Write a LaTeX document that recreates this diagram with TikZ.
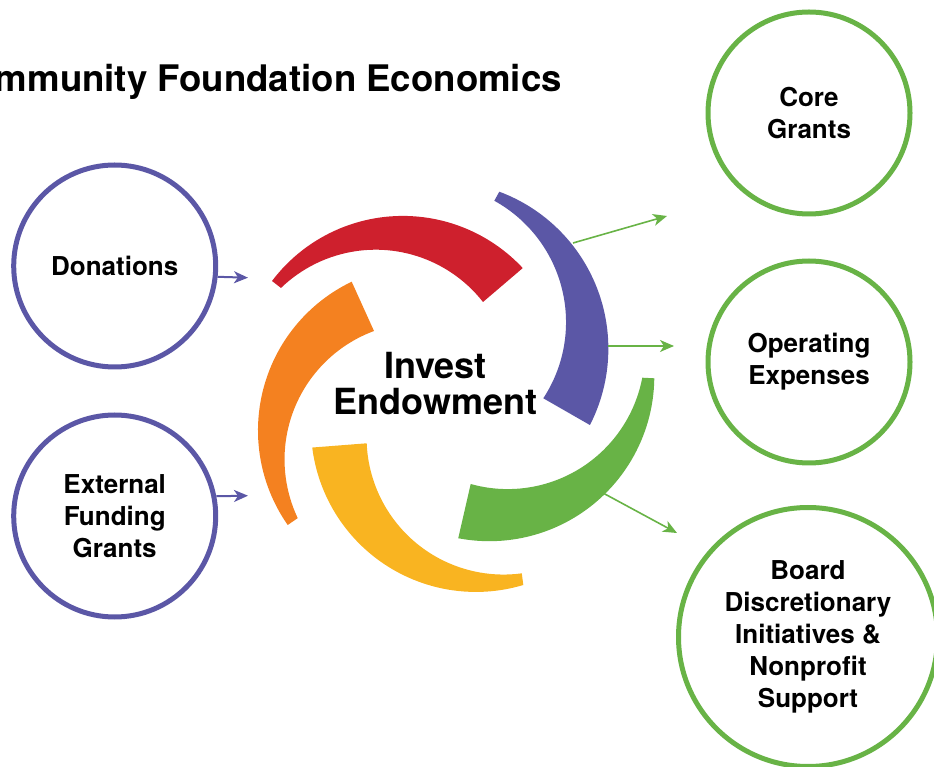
\documentclass[tikz,border=0pt]{standalone}
\usepackage{fontspec}
\setmainfont{TeX Gyre Heros}
\usetikzlibrary{arrows.meta}
\definecolor{cred}{HTML}{CE202D}
\definecolor{cpur}{HTML}{5B57A6}
\definecolor{cgrn}{HTML}{68B346}
\definecolor{cyel}{HTML}{F9B421}
\definecolor{cora}{HTML}{F48120}
\begin{document}
\begin{tikzpicture}[x=1pt,y=1pt,
  ring/.style={circle, draw, line width=5pt, inner sep=0pt, minimum size=202pt, align=center,
    font=\fontsize{26}{32}\selectfont\bfseries},
  inring/.style={ring, draw=cpur},
  outring/.style={ring, draw=cgrn},
  inarrow/.style={draw=cpur, line width=2pt, -{Stealth[length=14pt,width=12pt,inset=4pt]}},
  outarrow/.style={draw=cgrn, line width=1.6pt, -{Stealth[length=14pt,width=12pt,inset=4pt]}}]
\useasboundingbox (0,0) rectangle (934,766);

% title
\node[anchor=base east, inner sep=0pt, font=\fontsize{36.6}{40}\selectfont\bfseries] (title) at (562,674) {mmunity Foundation Economics};

% swirl arcs
\fill[cred] (272,485) arc[start angle=142.9,end angle=43,radius=164] -- (483,464) arc[start angle=38.05,end angle=134,radius=136.3] -- cycle;
\fill[cpur] (499.3,574.3) arc[start angle=69.58,end angle=-27.13,radius=167.5] -- (543.3,367.7) arc[start angle=-33.27,end angle=61.13,radius=138.7] -- cycle;
\fill[cgrn] (654.3,387.7) arc[start angle=-0.73,end angle=-100.86,radius=165] -- (470.7,282) arc[start angle=-105.67,end angle=-10.77,radius=137] -- cycle;
\fill[cyel] (523.3,181) arc[start angle=-73.32,end angle=-172.83,radius=165] -- (366.7,322.7) arc[start angle=-177.6,end angle=-82.36,radius=137] -- cycle;
\fill[cora] (287.7,241) arc[start angle=214.93,end angle=115.6,radius=165] -- (374,435) arc[start angle=110.3,end angle=205.35,radius=137] -- cycle;

% centre text
\node[align=center, inner sep=0pt, font=\fontsize{36}{36}\selectfont\bfseries] (centre) at (435.5,382) {Invest\\Endowment};

% circles
\node[inring] (don) at (114.7,500) {Donations};
\node[inring] (ext) at (114.7,250) {External\\Funding\\Grants};
\node[outring] (core) at (809,653) {Core\\Grants};
\node[outring] (oper) at (809,404) {Operating\\Expenses};
\node[outring, minimum size=259pt] (board) at (808,129) {Board\\Discretionary\\Initiatives \&\\Nonprofit\\Support};

% arrow ends
\coordinate (donT) at (248,488.3);
\coordinate (extT) at (248,270.3);
\coordinate (g1s) at (573,523);
\coordinate (g1t) at (667,550);
\coordinate (g2s) at (608,420);
\coordinate (g2t) at (674,420);
\coordinate (g3s) at (603,273);
\coordinate (g3t) at (677,233);

\draw[inarrow] (don.-6.5) -- (donT);
\draw[inarrow] (ext.11.3) -- (extT);
\draw[outarrow] (g1s) -- (g1t);
\draw[outarrow] (g2s) -- (g2t);
\draw[outarrow] (g3s) -- (g3t);
\end{tikzpicture}
\end{document}
